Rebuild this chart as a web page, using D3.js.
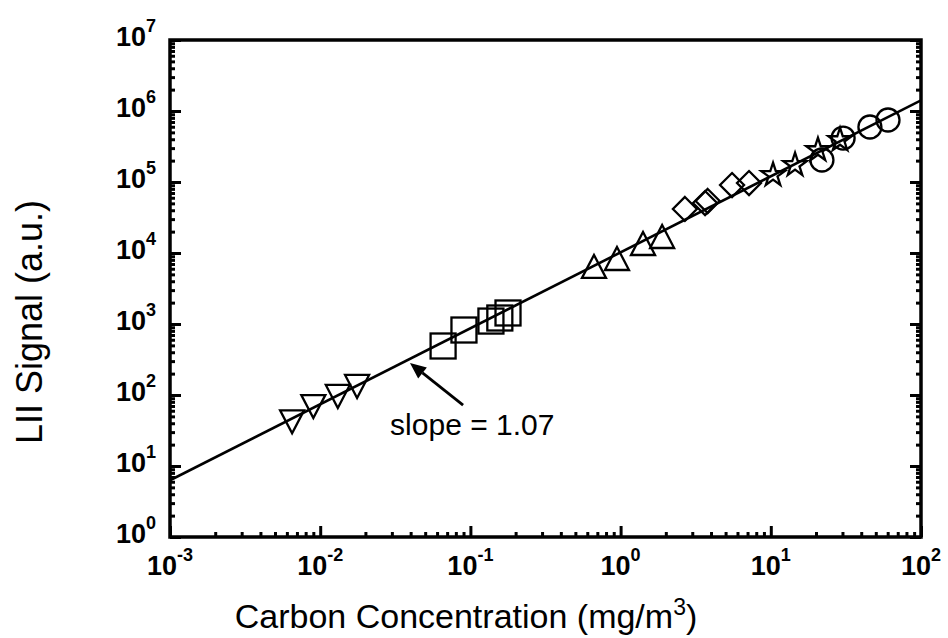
<!DOCTYPE html>
<html><head><meta charset="utf-8">
<script src="https://d3js.org/d3.v7.min.js"></script>
<style>body{margin:0;background:#fff}svg{display:block}</style>
</head><body><div id="chart"></div>
<script>
// ---- data ----
const downTriX = [0.0065, 0.0090, 0.0131, 0.0176];
const downTriY = [47, 77, 107, 148];
const squareX = [0.0658, 0.0906, 0.137, 0.157, 0.178];
const squareY = [490, 823, 1100, 1215, 1430];
const upTriX = [0.665, 0.946, 1.41, 1.89];
const upTriY = [5770, 7470, 12150, 15250];
const diamondX = [2.68, 3.65, 3.8, 5.52, 7.16];
const diamondY = [41700, 50600, 54000, 90700, 96800];
const starX = [10.35, 14.5, 20.6, 28.9];
const starY = [125600, 173600, 282000, 390000];
const circleX = [21.9, 30.3, 45.7, 60.3];
const circleY = [204000, 416000, 595000, 747000];
const fitX = [0.001, 100];
const fitY = [6.3, 1.41e6];
const xTickExp = [-3, -2, -1, 0, 1, 2];
const yTickExp = [0, 1, 2, 3, 4, 5, 6, 7];
const arrowFrom = [0.0894, 72];
const arrowTo = [0.0396, 282];
const slopeLabel = "slope = 1.07";
const slopePos = [0.0292, 27];
const xTitle = "Carbon Concentration (mg/m";
const yTitle = "LII Signal (a.u.)";

// ---- layout ----
const W = 948, H = 638;
const L = 170, R = 921, T = 40, B = 537;
const svg = d3.select("#chart").append("svg").attr("width", W).attr("height", H);
svg.append("rect").attr("width", W).attr("height", H).attr("fill", "#fff");

const x = d3.scaleLog().domain([1e-3, 1e2]).range([L, R]);
const y = d3.scaleLog().domain([1e0, 1e7]).range([B, T]);

const g = svg.append("g");

const isMajor = v => Math.abs(Math.log10(v) - Math.round(Math.log10(v))) < 1e-6;
const minorX = x.ticks().filter(v => !isMajor(v));
const minorY = y.ticks().filter(v => !isMajor(v));
const majX = xTickExp.map(e => Math.pow(10, e));
const majY = yTickExp.map(e => Math.pow(10, e));

function styleAxis(sel) {
  sel.select(".domain").remove();
  sel.selectAll("line").attr("stroke", "#000").attr("stroke-width", 3);
  sel.selectAll("text").remove();
}
g.append("g").attr("transform", `translate(0,${B})`)
  .call(d3.axisTop(x).tickValues(majX).tickSize(11)).call(styleAxis);
g.append("g").attr("transform", `translate(0,${B})`)
  .call(d3.axisTop(x).tickValues(minorX).tickSize(5)).call(styleAxis);
g.append("g").attr("transform", `translate(${L},0)`)
  .call(d3.axisRight(y).tickValues(majY).tickSize(11)).call(styleAxis);
g.append("g").attr("transform", `translate(${L},0)`)
  .call(d3.axisRight(y).tickValues(minorY).tickSize(5)).call(styleAxis);
g.append("g").attr("transform", `translate(${R},0)`)
  .call(d3.axisLeft(y).tickValues(majY).tickSize(11)).call(styleAxis);
g.append("g").attr("transform", `translate(${R},0)`)
  .call(d3.axisLeft(y).tickValues(minorY).tickSize(5)).call(styleAxis);

// frame
g.append("rect").attr("x", L).attr("y", T).attr("width", R - L).attr("height", B - T)
  .attr("fill", "none").attr("stroke", "#000").attr("stroke-width", 3.5);

// tick labels
const font = "'Liberation Sans', Arial, sans-serif";
xTickExp.forEach(e => {
  const t = g.append("text").attr("x", x(Math.pow(10, e))).attr("y", B + 38)
    .attr("text-anchor", "middle").attr("font-family", font).attr("font-weight", "bold")
    .attr("font-size", 27).attr("fill", "#000");
  t.append("tspan").text("10");
  t.append("tspan").attr("dy", -14).attr("font-size", 18).text(String(e));
});
yTickExp.forEach(e => {
  const t = g.append("text").attr("x", L - 14).attr("y", y(Math.pow(10, e)) + 6)
    .attr("text-anchor", "end").attr("font-family", font).attr("font-weight", "bold")
    .attr("font-size", 27).attr("fill", "#000");
  t.append("tspan").text("10");
  t.append("tspan").attr("dy", -14).attr("font-size", 18).text(String(e));
});

// titles
const xt = svg.append("text").attr("x", 466).attr("y", 628).attr("text-anchor", "middle")
  .attr("font-family", font).attr("font-size", 34).attr("fill", "#000");
xt.append("tspan").text(xTitle);
xt.append("tspan").attr("dy", -13).attr("font-size", 23).text("3");
xt.append("tspan").attr("dy", 13).text(")");
svg.append("text").attr("transform", `translate(42,322) rotate(-90)`)
  .attr("text-anchor", "middle").attr("font-family", font).attr("font-size", 36)
  .attr("fill", "#000").text(yTitle);

// fit line
svg.append("clipPath").attr("id", "clip").append("rect")
  .attr("x", L).attr("y", T).attr("width", R - L).attr("height", B - T);
g.append("path").datum(fitX.map((v, i) => [v, fitY[i]]))
  .attr("d", d3.line().x(d => x(d[0])).y(d => y(d[1])))
  .attr("fill", "none").attr("stroke", "#000").attr("stroke-width", 2.6)
  .attr("clip-path", "url(#clip)");

// markers
const mk = g.append("g").attr("fill", "none").attr("stroke", "#000").attr("stroke-width", 2.3);
function pts(xs, ys) { return xs.map((v, i) => [x(v), y(ys[i])]); }
mk.selectAll(".dt").data(pts(downTriX, downTriY)).join("path")
  .attr("d", d => `M${d[0] - 12},${d[1] - 8}L${d[0] + 12},${d[1] - 8}L${d[0]},${d[1] + 15}Z`);
mk.selectAll(".sq").data(pts(squareX, squareY)).join("rect")
  .attr("x", d => d[0] - 12.5).attr("y", d => d[1] - 12.5).attr("width", 25).attr("height", 25);
mk.selectAll(".ut").data(pts(upTriX, upTriY)).join("path")
  .attr("d", d => `M${d[0] - 12},${d[1] + 8}L${d[0] + 12},${d[1] + 8}L${d[0]},${d[1] - 15}Z`);
mk.selectAll(".dm").data(pts(diamondX, diamondY)).join("path")
  .attr("d", d => `M${d[0]},${d[1] - 12}L${d[0] + 12},${d[1]}L${d[0]},${d[1] + 12}L${d[0] - 12},${d[1]}Z`);
mk.selectAll(".ci").data(pts(circleX, circleY)).join("circle")
  .attr("cx", d => d[0]).attr("cy", d => d[1]).attr("r", 11.5);
const starPath = d3.symbol().type(d3.symbolStar).size(170)();
mk.selectAll(".st").data(pts(starX, starY)).join("path")
  .attr("transform", d => `translate(${d[0]},${d[1]})`).attr("d", starPath);

// annotation arrow
const ax0 = x(arrowFrom[0]), ay0 = y(arrowFrom[1]), ax1 = x(arrowTo[0]), ay1 = y(arrowTo[1]);
const ang = Math.atan2(ay1 - ay0, ax1 - ax0);
const hl = 16, hw = 7;
const bx = ax1 - hl * Math.cos(ang), by = ay1 - hl * Math.sin(ang);
g.append("line").attr("x1", ax0).attr("y1", ay0).attr("x2", bx).attr("y2", by)
  .attr("stroke", "#000").attr("stroke-width", 2.8);
g.append("path").attr("d",
  `M${ax1},${ay1}L${bx + hw * Math.sin(ang)},${by - hw * Math.cos(ang)}L${bx - hw * Math.sin(ang)},${by + hw * Math.cos(ang)}Z`)
  .attr("fill", "#000");
g.append("text").attr("x", x(slopePos[0])).attr("y", y(slopePos[1]))
  .attr("font-family", font).attr("font-size", 30).attr("fill", "#000").text(slopeLabel);
</script></body></html>
